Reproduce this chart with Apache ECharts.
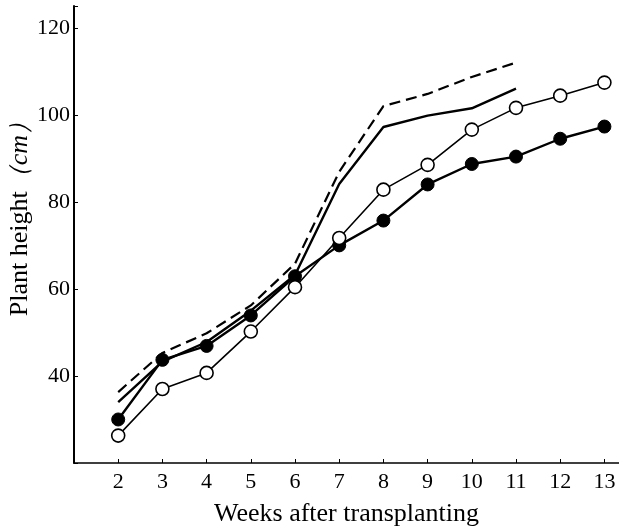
<!DOCTYPE html>
<html>
<head>
<meta charset="utf-8">
<script src="https://cdn.jsdelivr.net/npm/echarts@6/dist/echarts.min.js"></script>
<style>
  html, body { margin: 0; padding: 0; background: #fff; }
  #chart { width: 619px; height: 528px; }
</style>
</head>
<body>
<div id="chart"></div>
<script>
// weeks after transplanting
const weeks = [2, 3, 4, 5, 6, 7, 8, 9, 10, 11, 12, 13]
// plant height (cm)
const openCircle = [26.3, 37.0, 40.7, 50.2, 60.4, 71.7, 82.8, 88.5, 96.6, 101.6, 104.4, 107.4]
const filledCircle = [30.0, 43.7, 46.9, 53.9, 62.9, 70.0, 75.7, 84.0, 88.7, 90.4, 94.5, 97.3]
const solidLine = [34.0, 43.3, 47.8, 55.0, 63.2, 84.1, 97.2, 99.8, 101.5, 106.0]
const dashedLine = [36.3, 45.3, 49.8, 56.2, 65.8, 86.9, 102.0, 104.8, 108.7, 112.0]
const yTickLabels = [40, 60, 80, 100, 120]

const pairs = (vals) => vals.map((v, i) => [weeks[i], v])
const serif = '"Liberation Serif", "DejaVu Serif", serif'

const chart = echarts.init(document.getElementById('chart'), null, { renderer: 'canvas' })
chart.setOption({
    animation: false,
    grid: { left: 74, right: 0, top: 6, bottom: 65, outerBoundsMode: 'none', containLabel: false },
    xAxis: {
        type: 'value',
        min: 1,
        max: 13.33,
        interval: 1,
        name: 'Weeks after transplanting',
        nameLocation: 'middle',
        nameGap: 38,
        nameMoveOverlap: false,
        nameTextStyle: { color: '#000', fontFamily: serif, fontSize: 26 },
        splitLine: { show: false },
        axisLine: { lineStyle: { color: '#000', width: 1.5 } },
        axisTick: { inside: true, length: 4, lineStyle: { color: '#000' } },
        axisLabel: {
            color: '#000',
            fontFamily: serif,
            fontSize: 22,
            margin: 8,
            showMinLabel: false,
            showMaxLabel: false,
            formatter: (v) => (weeks.includes(v) ? String(v) : '')
        }
    },
    yAxis: {
        type: 'value',
        min: 20,
        max: 125,
        interval: 20,
        name: 'Plant height{i|（cm）}',
        nameLocation: 'middle',
        nameGap: 41,
        nameMoveOverlap: false,
        nameTextStyle: {
            color: '#000', fontFamily: serif, fontSize: 26,
            padding: [0, 0, 0, 44],
            rich: { i: { fontStyle: 'italic', fontFamily: serif, fontSize: 26, color: '#000' } }
        },
        splitLine: { show: false },
        axisLine: { show: true, lineStyle: { color: '#000', width: 2 } },
        axisTick: { inside: true, length: 4, lineStyle: { color: '#000' } },
        axisLabel: {
            color: '#000',
            fontFamily: serif,
            fontSize: 22,
            margin: 4,
            formatter: (v) => (yTickLabels.includes(v) ? String(v) : '')
        }
    },
    series: [
        {
            type: 'line',
            data: pairs(dashedLine),
            symbol: 'none',
            lineStyle: { color: '#000', width: 2.2, type: [11, 6] }
        },
        {
            type: 'line',
            data: pairs(solidLine),
            symbol: 'none',
            lineStyle: { color: '#000', width: 2.4 }
        },
        {
            type: 'line',
            data: pairs(filledCircle),
            symbol: 'circle',
            symbolSize: 13,
            itemStyle: { color: '#000', borderColor: '#000' },
            lineStyle: { color: '#000', width: 2.4 }
        },
        {
            type: 'line',
            data: pairs(openCircle),
            symbol: 'circle',
            symbolSize: 13,
            itemStyle: { color: '#fff', borderColor: '#000', borderWidth: 1.6 },
            lineStyle: { color: '#000', width: 1.6 }
        }
    ]
})
</script>
</body>
</html>
